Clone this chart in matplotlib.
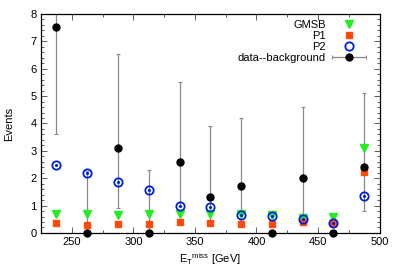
#!/usr/bin/env python

import numpy as np
import matplotlib
matplotlib.use('Agg')
import matplotlib.pyplot as plt
from matplotlib.ticker import MultipleLocator
from matplotlib.legend_handler import HandlerErrorbar

plt.rcParams['font.family'] = ['Liberation Sans', 'DejaVu Sans']
plt.rcParams['mathtext.fontset'] = 'custom'
plt.rcParams['mathtext.rm'] = 'Liberation Sans'
plt.rcParams['font.size'] = 8

# bin centres in MET [GeV]
met = [237.5, 262.5, 287.5, 312.5, 337.5, 362.5, 387.5, 412.5, 437.5, 462.5, 487.5]

gmsb = [0.69, 0.68, 0.64, 0.68, 0.70, 0.70, 0.68, 0.64, 0.55, 0.58, 3.11]
p1 = [0.35, 0.28, 0.32, 0.33, 0.39, 0.35, 0.33, 0.34, 0.39, 0.36, 2.24]
p2 = [2.48, 2.20, 1.87, 1.57, 0.98, 0.96, 0.67, 0.63, 0.50, 0.38, 1.36]

data_bg = [7.53, 0.0, 3.11, 0.0, 2.60, 1.30, 1.72, 0.0, 2.00, 0.0, 2.41]
err_lo = [3.60, 0.0, 0.90, 0.0, 1.00, 0.35, 0.41, 0.0, 0.55, 0.0, 0.80]
err_hi = [9.50, 2.25, 6.53, 2.30, 5.52, 3.90, 4.20, 0.0, 4.60, 0.0, 5.10]

x = np.array(met)
y = np.array(data_bg)
yerr = [np.clip(y - np.array(err_lo), 0, None),
        np.clip(np.array(err_hi) - y, 0, None)]

fig = plt.figure(figsize=(4, 2.8), dpi=100)
ax = fig.add_axes([0.1025, 0.168, 0.8465, 0.782])

ax.plot(met, gmsb, linestyle='none', marker='v', ms=5.2, color='#22ee22',
        mec='#22ee22', label='GMSB', zorder=3)
ax.plot(met, p1, linestyle='none', marker='s', ms=4.8, color='#ff4a0a',
        mec='#ff4a0a', label='P1', zorder=4)
ax.plot(met, p2, linestyle='none', marker='o', ms=6, mfc='none',
        mec='#0020e0', mew=1.3, label='P2', zorder=5)
ax.plot(met, p2, linestyle='none', marker='o', ms=1.2, color='#0020e0', zorder=5)

ax.errorbar(x, y, yerr=yerr, fmt='none', ecolor='#888888', elinewidth=0.9,
            capsize=1.5, capthick=0.8, zorder=2)
ax.plot(met, data_bg, linestyle='none', marker='o', ms=5, color='black',
        zorder=6, clip_on=False)

# legend entry with horizontal error bar, gnuplot style
leg_h = ax.errorbar([np.nan], [np.nan], xerr=[np.nan], fmt='o', ms=5,
                    color='black', ecolor='#888888', elinewidth=0.9,
                    capsize=1.5, capthick=0.8)

handles, labels = ax.get_legend_handles_labels()
handles = handles[:3] + [leg_h]
labels = labels[:3] + ['data--background']
leg = ax.legend(handles, labels, loc='upper right',
                bbox_to_anchor=(0.962, 0.976), borderaxespad=0,
                frameon=False, markerfirst=False, handlelength=3.0,
                handletextpad=0.6, labelspacing=0.08, borderpad=0.1,
                handleheight=0.8, fontsize=8,
                handler_map={leg_h: HandlerErrorbar(xerr_size=1.5)})
leg._legend_box._children[-1]._children[0].align = 'right'

ax.set_xlim(225, 500)
ax.set_ylim(0, 8)
ax.xaxis.set_major_locator(MultipleLocator(50))
ax.xaxis.set_minor_locator(MultipleLocator(25))
ax.yaxis.set_major_locator(MultipleLocator(1))
ax.yaxis.set_minor_locator(MultipleLocator(0.2))
ax.tick_params(which='both', direction='in', top=True, right=True,
               width=0.6, color='#444444', labelsize=8, pad=3)
ax.tick_params(which='major', length=4)
ax.tick_params(which='minor', length=2)
for s in ax.spines.values():
    s.set_linewidth(0.9)

ax.set_xlabel(r'E$_{\mathrm{T}}{}^{\mathrm{miss}}$ [GeV]', labelpad=3)
ax.set_ylabel('Events', labelpad=12)

fig.savefig('out.png', dpi=100)
